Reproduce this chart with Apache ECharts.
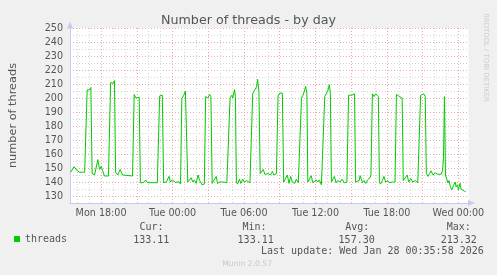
<!DOCTYPE html>
<html>
<head>
<meta charset="utf-8">
<script src="https://cdn.jsdelivr.net/npm/echarts@6/dist/echarts.min.js"></script>
<style>
html,body{margin:0;padding:0;background:#f0f0f0;}
#c{width:497px;height:275px;}
</style>
</head>
<body>
<div id="c"></div>
<script>
// hours since Mon 00:00 (Mon 18:00 = 18, Tue 00:00 = 24, Wed 00:00 = 48)
var times = [
15.45,15.73,16.00,16.20,16.62,16.70,16.83,16.95,17.06,17.14,17.25,17.45,17.73,17.87,18.00,18.14,18.28,18.62,18.66,
18.80,18.92,19.03,19.12,19.22,19.40,19.60,19.80,19.95,20.64,20.68,20.78,20.92,21.06,21.20,21.30,21.55,21.75,21.90,
22.72,22.80,22.92,23.06,23.14,23.25,23.48,23.70,23.83,23.98,24.12,24.25,24.39,24.53,24.67,24.78,24.95,25.08,25.17,
25.28,25.37,25.56,25.70,25.83,25.98,26.14,26.28,26.48,26.67,26.78,26.95,27.12,27.22,27.33,27.45,27.67,27.78,28.00,
28.28,28.56,28.70,28.83,28.98,29.06,29.20,29.28,29.36,29.45,29.62,29.73,29.90,30.03,30.23,30.50,30.64,30.73,30.84,
30.95,31.06,31.14,31.25,31.36,31.42,31.62,31.75,32.03,32.22,32.39,32.50,32.72,32.86,33.00,33.14,33.22,33.33,33.42,
33.64,33.78,33.92,34.06,34.25,34.39,34.56,34.70,34.83,34.95,35.06,35.17,35.28,35.36,35.45,35.64,35.78,36.06,36.20,
36.33,36.50,36.64,36.78,36.90,37.03,37.17,37.25,37.34,37.45,37.59,37.73,37.86,38.06,38.23,38.42,38.64,38.78,38.92,
39.06,39.20,39.28,39.37,39.48,39.67,39.75,39.95,40.08,40.23,40.37,40.50,40.58,40.66,40.78,40.92,41.06,41.20,41.28,
41.37,41.45,41.62,41.75,41.89,42.08,42.23,42.45,42.68,42.80,42.92,43.06,43.20,43.28,43.37,43.50,43.70,43.83,44.00,
44.17,44.39,44.59,44.72,44.83,44.95,45.09,45.22,45.31,45.45,45.58,45.70,45.87,46.06,46.28,46.56,46.67,46.75,46.83,
46.92,47.03,47.12,47.22,47.33,47.45,47.59,47.73,47.81,47.92,48.00,48.14,48.22,48.36,48.50,48.61
];
var threads = [
147,151,148,147,147,146,205.7,205,206,207.5,146,145,156,149,151,148,144.3,144.3,144.3,
211,212,210.5,212.5,147,145,149,145,144.3,144.3,144.3,202.5,200,199.8,200.5,139.5,139.5,141.5,139.5,
139.5,139.5,201.5,201,202,139.5,140,144,140,141.5,142.5,139.7,138.9,140.2,138.6,199.5,202,205,204,
140,138.6,143,140,141.5,139,145,141,138,138.5,201,200,202.5,201,139,138.5,144,139,140,
140,139.5,139.5,200,202,200,206,201,140,138.5,142,139,142,140,141,139.5,139.5,203,205,
204.5,208,213.3,205,146,145,149,145.5,146,145,147.5,145,146,201.6,203.5,203,203.5,140,139.5,
145,139,144,140,139,142,139.5,139.5,200,202,204.5,208.5,203,140,139,144.5,139.5,141.5,140,
141.5,138,139,201,202,205,209.5,203,140,139,144,139.5,141,140,142,139.5,140,202,201,
202,201,203,140,139.5,141,144.5,139.5,141,139,141.5,141,143,145,203,201,203,202,201,
140,138.5,141,144,140,141,139.5,140,140,202.5,202,201,199.8,200,141,140,145,140,142.5,
140,141,139.5,139.5,202,201,203,201,146,144,146,148,145,146.5,145.5,145.5,148,157,201,
145,143.8,139.5,141,136.7,134.3,137.5,140,136.5,138,134.5,139,135,135,133.5,133.11
];
var xLabelHours = [18, 24, 30, 36, 42, 48];
var xLabelTexts = ['Mon 18:00', 'Tue 00:00', 'Tue 06:00', 'Tue 12:00', 'Tue 18:00', 'Wed 00:00'];
var statHeads = ['Cur:', 'Min:', 'Avg:', 'Max:'];
var statValues = ['133.11', '133.11', '157.30', '213.32'];
var seriesName = 'threads';
var lastUpdate = 'Last update: Wed Jan 28 00:35:58 2026';

var gridHours = [];
for (var h = 16; h <= 48; h++) gridHours.push(h);

var data = times.map(function (t, i) { return [t, threads[i]]; });

var SANS = 'DejaVu Sans';
var MONO = 'DejaVu Sans Mono';
var TXT = '#555555';
var MINOR = '#d6d6d6';
var MAJOR = '#eeaaaa';
var AXIS = '#c8c8f0';

var headX = [139.5, 242.5, 345.2, 446.8];
var valX = [133.2, 237.6, 338.6, 440.7];
var graphics = [];
statHeads.forEach(function (s, i) {
  graphics.push({type: 'text', x: headX[i], y: 227.7, style: {text: s, font: '10px "' + MONO + '"', fill: TXT, verticalAlign: 'middle'}});
  graphics.push({type: 'text', x: valX[i], y: 240.3, style: {text: statValues[i], font: '10px "' + MONO + '"', fill: TXT, verticalAlign: 'middle'}});
});
graphics.push({type: 'text', x: 261, y: 251.5, style: {text: lastUpdate, font: '10px "' + MONO + '"', fill: TXT, verticalAlign: 'middle'}});
graphics.push({type: 'text', x: 222.3, y: 264.4, style: {text: 'Munin 2.0.57', font: '7.6px "' + SANS + '"', fill: '#c8c8c8', verticalAlign: 'middle'}});
graphics.push({type: 'text', x: 485.5, y: 57.5, rotation: -Math.PI / 2, style: {text: 'RRDTOOL / TOBI OETIKER', font: '6.9px "' + SANS + '"', fill: '#cccccc', align: 'center', verticalAlign: 'middle'}});

var chart = echarts.init(document.getElementById('c'), null, {renderer: 'canvas'});
chart.setOption({
  animation: false,
  backgroundColor: '#f0f0f0',
  title: {
    text: 'Number of threads - by day',
    left: 'center',
    top: 14,
    padding: 0,
    textStyle: {fontFamily: SANS, fontSize: 12.7, fontWeight: 'normal', color: TXT, lineHeight: 13}
  },
  legend: {
    data: [seriesName],
    left: 14,
    top: 234,
    padding: 0,
    icon: 'rect',
    itemWidth: 6,
    itemHeight: 6,
    textStyle: {fontFamily: MONO, fontSize: 10, color: TXT}
  },
  grid: {
    left: 67, right: 28.5, top: 28, bottom: 72,
    show: true, backgroundColor: '#ffffff', borderWidth: 0
  },
  xAxis: {
    type: 'value',
    min: 15.39,
    max: 48.85,
    axisLine: {show: true, lineStyle: {color: AXIS, width: 1}, symbol: ['none', 'triangle'], symbolSize: [6, 7], symbolOffset: [0, 3]},
    axisTick: {show: false, customValues: gridHours},
    axisLabel: {
      customValues: xLabelHours,
      margin: 5,
      fontFamily: SANS, fontSize: 9.6, color: TXT,
      formatter: function (v) { var i = xLabelHours.indexOf(Math.round(v)); return i >= 0 ? xLabelTexts[i] : ''; }
    },
    splitLine: {show: true, lineStyle: {color: [MINOR, MINOR, MAJOR], type: [1, 2], width: 1}}
  },
  yAxis: {
    type: 'value',
    min: 125,
    max: 250,
    interval: 5,
    name: 'number of threads',
    nameLocation: 'middle',
    nameGap: 51,
    nameTextStyle: {fontFamily: SANS, fontSize: 11.3, color: TXT},
    axisLine: {show: true, onZero: false, lineStyle: {color: AXIS, width: 1}, symbol: ['none', 'triangle'], symbolSize: [6, 7], symbolOffset: [0, 3]},
    axisTick: {show: false},
    axisLabel: {
      margin: 7,
      fontFamily: SANS, fontSize: 9.6, color: TXT,
      formatter: function (v) { return v % 10 === 0 ? String(v) : ''; }
    },
    splitLine: {show: true, lineStyle: {color: [MINOR, MAJOR], type: [1, 2], width: 1}}
  },
  series: [{
    name: seriesName,
    type: 'line',
    data: data,
    showSymbol: false,
    symbol: 'none',
    itemStyle: {color: '#00cc00'},
    lineStyle: {color: '#00cc00', width: 1},
    z: 5
  }],
  graphic: graphics
});
</script>
</body>
</html>
